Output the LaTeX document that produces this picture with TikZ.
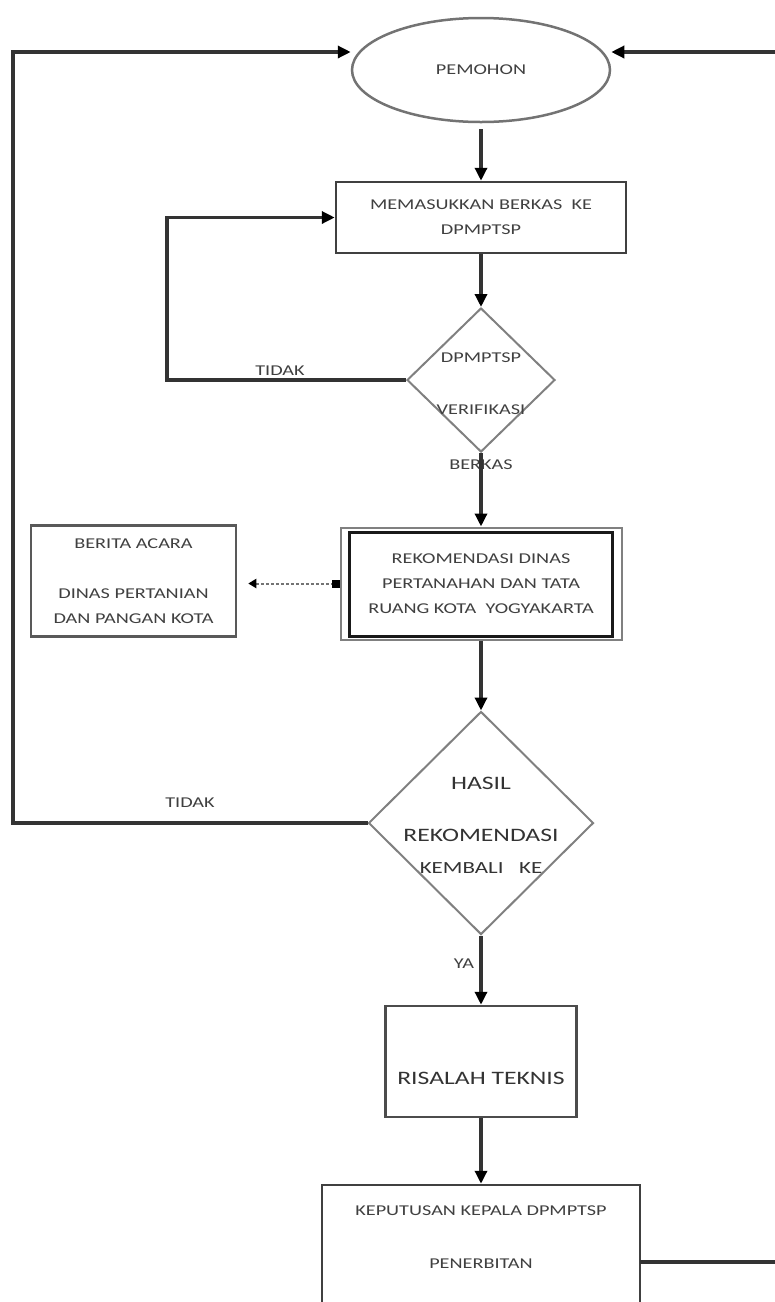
\documentclass[tikz,border=0pt]{standalone}
\usepackage{fontspec}
\newfontfamily\calfont[FakeStretch=1.35]{Carlito}
\usetikzlibrary{shapes.geometric,arrows.meta}
\begin{document}
\begin{tikzpicture}[x=1pt,y=-1pt,
  txt/.style={font=\calfont\fontsize{15}{25}\selectfont, text=black!75, inner sep=0pt, align=center},
  big/.style={font=\calfont\fontsize{19}{25}\selectfont, text=black!80, inner sep=0pt, align=center},
  boxnode/.style={draw=black!75, line width=2.5pt, rectangle, inner sep=0pt},
  dia/.style={draw=black!50, line width=2pt, diamond, inner sep=0pt},
  conn/.style={draw=black!80, line width=3.5pt},
  arr/.style={conn, -{Triangle[width=12pt,length=13pt,color=black]}},
  dashconn/.style={draw=black!55, line width=2pt, dash pattern=on 3pt off 2pt},
]
\useasboundingbox (0,0) rectangle (775,1302);

% nodes
\node[txt, ellipse, draw=black!55, line width=2.5pt, minimum width=258pt, minimum height=104pt] (pem) at (481,70) {PEMOHON};
\node[boxnode, txt, minimum width=290pt, minimum height=71pt] (b1) at (481,217.5) {MEMASUKKAN BERKAS\ \ KE\\DPMPTSP};
\node[dia, minimum width=148pt, minimum height=144pt] (d1) at (481,380) {};
\node[txt] (d1a) at (481,358) {DPMPTSP};
\node[txt] (d1b) at (481,410) {VERIFIKASI};
\node[txt] (berkas) at (481,465) {BERKAS};

\node[draw=black!50, line width=2pt, minimum width=281pt, minimum height=112pt, inner sep=0pt] (b2o) at (481,583.5) {};
\node[draw=black!90, line width=3pt, txt, minimum width=263pt, minimum height=104pt] (b2) at (481,584) {REKOMENDASI DINAS\\PERTANAHAN DAN TATA\\RUANG KOTA\ \ YOGYAKARTA};

\node[boxnode, txt, draw=black!65, minimum width=205pt, minimum height=111pt] (b3) at (133.5,581) {BERITA ACARA\\[25pt]DINAS PERTANIAN\\DAN PANGAN KOTA};

\node[dia, minimum width=225pt, minimum height=223pt] (d2) at (481,823) {};
\node[big] (d2a) at (481,783) {HASIL};
\node[big] (d2b) at (481,835) {REKOMENDASI};
\node[big, font=\calfont\fontsize{17}{25}\selectfont] (d2c) at (481,868) {KEMBALI\ \ \ KE};

\node[txt] (tidak1) at (280,371) {TIDAK};
\node[txt] (tidak2) at (190,803) {TIDAK};
\node[txt] (ya) at (464,964) {YA};

\node[boxnode, draw=black!70, minimum width=191pt, minimum height=111pt] (b4) at (481,1061.5) {};
\node[big] (b4t) at (481,1078) {RISALAH TEKNIS};

\node[boxnode, minimum width=318pt, minimum height=160pt] (b5) at (481,1265) {};
\node[txt] (b5a) at (481,1211) {KEPUTUSAN KEPALA DPMPTSP};
\node[txt] (b5b) at (481,1264) {PENERBITAN};

% helper coordinates
\coordinate (l1) at (167,380);
\coordinate (l2) at (13,823);
\coordinate (topL) at (13,52);
\coordinate (r0) at (640,1262);
\coordinate (r1) at (784,1262);
\coordinate (topR) at (784,52);

% connectors
\draw[arr, shorten <=6pt] (pem.south) -- (b1.north);
\draw[arr] (b1.south) -- (d1.north);
\draw[arr] (d1.west) -- (l1) |- (b1.west);
\draw[arr] (d1.south) -- (b2o.north);
\draw[dashconn, {Triangle[width=9pt,length=8pt,color=black]}-{Square[width=8pt,length=8pt,color=black]}, shorten <=11pt] (b3.east |- b2o.west) -- (b2o.west);
\draw[arr] (b2o.south) -- (d2.north);
\draw[arr] (d2.west) -- (l2) -- (topL) -- (pem.west |- topL);
\draw[arr] (d2.south) -- (b4.north);
\draw[arr] (b4.south) -- (b5.north);
\draw[arr] (r0) -- (r1) -- (topR) -- (pem.east |- topR);
\end{tikzpicture}
\end{document}
